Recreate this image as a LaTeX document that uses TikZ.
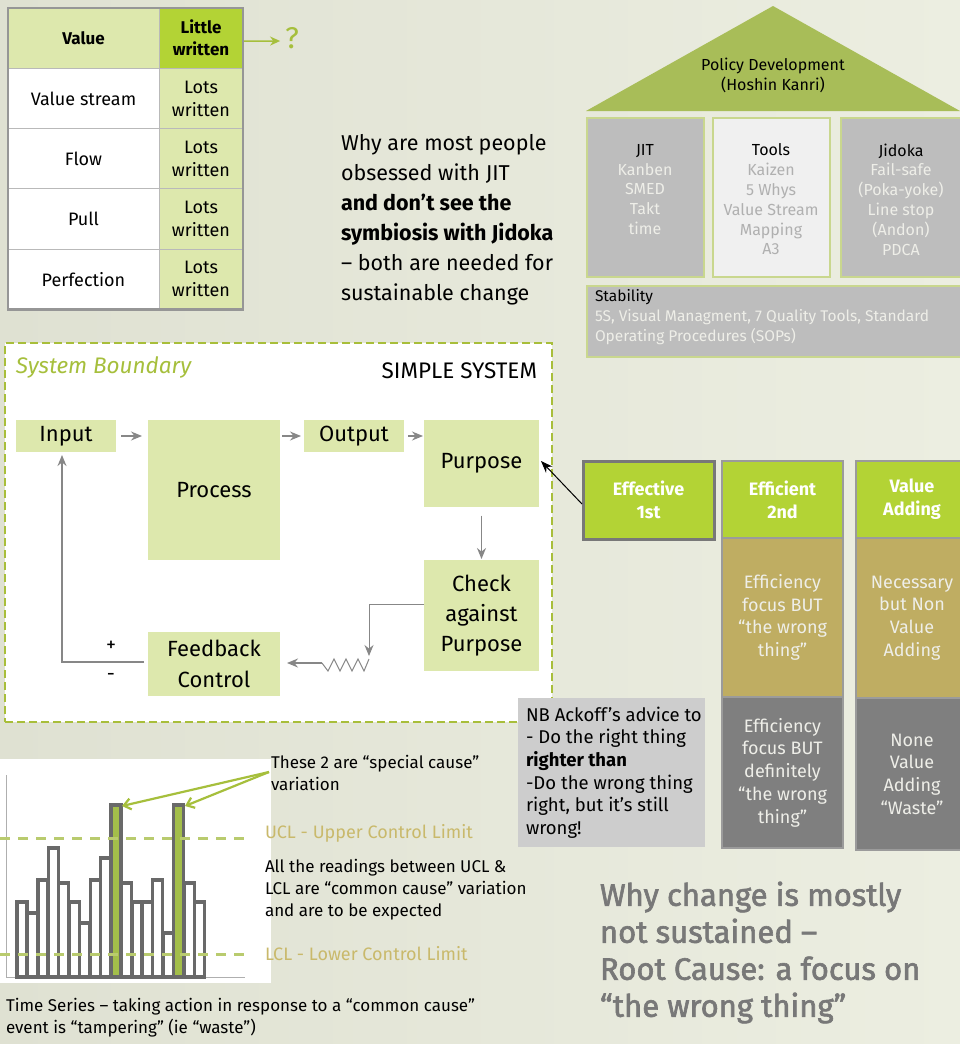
\documentclass[tikz,border=0pt]{standalone}
\usepackage{fontspec}
\setmainfont{Fira Sans}
\newfontfamily\headfont[FakeBold=2]{Fira Sans}
\usetikzlibrary{arrows.meta,calc}
\newcommand\setfs[2]{\fontsize{#1}{#2}\selectfont}
% palette
\definecolor{bgL}{RGB}{223,225,210}
\definecolor{bgR}{RGB}{236,238,225}
\definecolor{palegreen}{RGB}{221,232,173}
\definecolor{brightgreen}{RGB}{179,211,53}
\definecolor{roofgreen}{RGB}{168,189,88}
\definecolor{olivecol}{RGB}{191,173,98}
\definecolor{darkgreycol}{RGB}{127,127,127}
\definecolor{pillargrey}{RGB}{189,189,189}
\definecolor{toolsgrey}{RGB}{240,240,240}
\definecolor{pillaredge}{RGB}{201,215,142}
\definecolor{linegreen}{RGB}{166,191,60}
\definecolor{boundgreen}{RGB}{168,190,58}
\definecolor{tancol}{RGB}{201,185,107}
\definecolor{arrowgrey}{RGB}{135,135,135}
\definecolor{bigtext}{RGB}{120,120,120}
\definecolor{notegrey}{RGB}{205,205,205}
\definecolor{baredge}{RGB}{105,105,105}
\definecolor{softwhite}{RGB}{238,238,232}
\definecolor{gridgrey}{RGB}{185,185,185}
\definecolor{tableedge}{RGB}{150,150,150}
\definecolor{coledge}{RGB}{155,155,155}
\definecolor{effedge}{RGB}{120,120,120}
\definecolor{limitgreen}{RGB}{185,203,110}
\definecolor{itemgrey}{RGB}{176,176,176}
\definecolor{axisgrey}{RGB}{175,175,175}
\definecolor{barfill}{RGB}{163,190,74}
\begin{document}
\begin{tikzpicture}[x=1pt,y=-1pt,
  every node/.style={inner sep=0pt,outer sep=0pt},
  cellL/.style={fill=white,draw=gridgrey,line width=1pt,minimum width=151pt,minimum height=60.3pt,font=\setfs{18}{23}},
  cellR/.style={fill=palegreen,draw=gridgrey,line width=1pt,minimum width=84pt,minimum height=60.3pt,align=center,font=\setfs{18}{23}},
  pillar/.style={draw=pillaredge,line width=2pt,minimum width=117pt,minimum height=159pt},
  pillartext/.style={align=center,font=\setfs{16}{19.8}},
  sysbox/.style={fill=palegreen,align=center,font=\setfs{22}{30}},
  flow/.style={draw=arrowgrey,line width=1.4pt,-{Stealth[length=11pt,width=9pt]}},
  wire/.style={draw=arrowgrey,line width=1pt},
  colhead/.style={fill=brightgreen,draw=coledge,line width=1.5pt,align=center,text=white,font=\bfseries\setfs{18}{23}},
  colbody/.style={draw=coledge,line width=1.5pt,align=center,text=softwhite,font=\setfs{18}{22.7}},
  bar/.style={fill=white,draw=baredge,line width=3.2pt},
  limit/.style={draw=limitgreen,line width=3pt,dash pattern=on 10pt off 8pt},
  pointer/.style={draw=linegreen,line width=2.2pt,-{Straight Barb[length=7pt,width=11pt]}},
]
\useasboundingbox (0,0) rectangle (960,1044);
\shade[left color=bgL,right color=bgR] (0,0) rectangle (960,1044);

% ---------- Lean principles table ----------
\node[cellL,fill=palegreen,font=\bfseries\setfs{17}{22}] (hValue) at (83.5,38.2) {Value};
\node[cellR,fill=brightgreen,font=\bfseries\setfs{17}{22}] (hLittle) at (201,38.2) {Little\\written};
\node[cellL] (rVS) at (83.5,98.5) {Value stream};
\node[cellR] (lVS) at (201,98.5) {Lots\\written};
\node[cellL] (rFlow) at (83.5,158.8) {Flow};
\node[cellR] (lFlow) at (201,158.8) {Lots\\written};
\node[cellL] (rPull) at (83.5,219.1) {Pull};
\node[cellR] (lPull) at (201,219.1) {Lots\\written};
\node[cellL] (rPerf) at (83.5,279.4) {Perfection};
\node[cellR] (lPerf) at (201,279.4) {Lots\\written};
\draw[tableedge,line width=2.5pt] (hValue.north west) rectangle (lPerf.south east);
\node[text=linegreen,font=\setfs{30}{30}] (qmark) at (292,38) {?};
\draw[draw=linegreen,line width=1.5pt,-{Stealth[length=10pt,width=9pt]}]
  ($(hLittle.east)+(1,3)$) -- ($(qmark.west)+(-5,3)$);

% ---------- Lean house ----------
\fill[roofgreen] (586,111) -- (773,6) -- (960,111) -- cycle;
\node[align=center,font=\setfs{16}{20}] (policy) at (773,75) {Policy Development\\(Hoshin Kanri)};
\node[pillar,fill=pillargrey] (jit) at (645.5,197.5) {};
\node[pillar,fill=toolsgrey] (tools) at (771,197.5) {};
\node[pillar,fill=pillargrey,minimum width=121pt] (jidoka) at (901.5,197.5) {};
\node[pillartext,text=softwhite] (jitT) at (645,189.5)
  {\textcolor{black}{JIT}\\Kanben\\SMED\\Takt\\time};
\node[pillartext,text=itemgrey] (toolsT) at (771,199.5)
  {\textcolor{black}{Tools}\\Kaizen\\5 Whys\\Value Stream\\Mapping\\A3};
\node[pillartext,text=softwhite] (jidokaT) at (901,199.5)
  {\textcolor{black}{Jidoka}\\Fail-safe\\(Poka-yoke)\\Line stop\\(Andon)\\PDCA};
\node[draw=pillaredge,line width=2pt,fill=pillargrey,minimum width=376pt,minimum height=71pt] (stab) at (775,321.5) {};
\node[anchor=west,align=left,font=\setfs{15.5}{20},text=softwhite] (stabT) at ($(stab.west)+(8,-4.5)$)
  {\textcolor{black}{Stability}\\5S, Visual Managment, 7 Quality Tools, Standard\\Operating Procedures (SOPs)};

% ---------- Question ----------
\node[anchor=west,align=left,font=\setfs{21.5}{30}] (why) at (341,220)
  {Why are most people\\obsessed with JIT\\\textbf{and don’t see the}\\\textbf{symbiosis with Jidoka}\\– both are needed for\\sustainable change};

% ---------- Simple system ----------
\node[fill=white,draw=boundgreen,line width=2.5pt,dash pattern=on 8pt off 4pt,
      minimum width=547pt,minimum height=379pt] (boundary) at (278.5,532.5) {};
\node[anchor=west,text=linegreen,font=\itshape\setfs{22.5}{26}] (bname) at (16,367) {System Boundary};
\node[anchor=east,font=\setfs{22.5}{26}] (simple) at (537,371) {SIMPLE SYSTEM};
\node[sysbox,minimum width=100pt,minimum height=32pt] (input) at (66,436) {Input};
\node[sysbox,minimum width=132pt,minimum height=140pt] (process) at (214,490) {Process};
\node[sysbox,minimum width=100pt,minimum height=32pt] (output) at (354,436) {Output};
\node[sysbox,minimum width=115pt,minimum height=87pt] (purpose) at (481.5,463) {Purpose};
\node[sysbox,minimum width=115pt,minimum height=111pt] (check) at (481.5,615.5) {Check\\against\\Purpose};
\node[sysbox,minimum width=132pt,minimum height=64pt,font=\setfs{22}{31}] (feedback) at (214,664) {Feedback\\Control};
\draw[flow] ($(input.east)+(5,0)$) -- ($(input.east -| process.west)+(-6,0)$);
\draw[flow] ($(process.east |- output.west)+(2,0)$) -- ($(output.west)+(-3,0)$);
\draw[flow] ($(output.east)+(4,0)$) -- ($(output.east -| purpose.west)+(-1,0)$);
\draw[flow] ($(purpose.south)+(0,9)$) -- ($(check.north)+(0,-1)$);
\coordinate (zr) at (369,659);
\coordinate (zl) at (322,663);
\draw[flow,line width=1pt] ($(check.west)+(0,-11.5)$) -| ($(zr)+(0,-3)$);
\draw[wire] (zr) -- (364,671) -- (358,659) -- (352,671) -- (346,659) -- (340,671)
  -- (334,659) -- (328,671) -- (zl);
\draw[flow] (zl) -- ($(feedback.east)+(7,-1)$);
\draw[flow] ($(feedback.west)+(-4,-2)$) -| ($(input.south)+(-4,3)$);
\node[font=\setfs{20}{22}] (plus) at (111,646) {+};
\node[font=\setfs{20}{22}] (minus) at (111,677) {-};

% ---------- Effective / efficient / value adding ----------
\node[fill=brightgreen,draw=effedge,line width=3pt,minimum width=131pt,minimum height=78pt,
      align=center,text=white,font=\bfseries\setfs{18}{23}] (effective) at (648.5,500) {Effective\\1st};
\node[colhead,minimum width=121pt,minimum height=77pt] (effH) at (782.5,499.5) {Efficient\\2nd};
\node[colbody,fill=olivecol,minimum width=121pt,minimum height=159pt] (effO) at (782.5,617.5)
  {Efficiency\\focus BUT\\“the wrong\\thing”};
\node[colbody,fill=darkgreycol,minimum width=121pt,minimum height=151pt] (effG) at (782.5,772.5)
  {Efficiency\\focus BUT\\definitely\\“the wrong\\thing”};
\node[colhead,minimum width=112pt,minimum height=77pt] (vaH) at (912,499.5) {Value\\Adding};
\node[colbody,fill=olivecol,minimum width=112pt,minimum height=160pt] (vaO) at (912,618)
  {Necessary\\but Non\\Value\\Adding};
\node[colbody,fill=darkgreycol,minimum width=112pt,minimum height=152pt] (vaG) at (912,774)
  {None\\Value\\Adding\\“Waste”};
\draw[line width=1pt,-{Stealth[length=12pt,width=9pt]}]
  ($(effective.west)+(-1,4)$) -- ($(purpose.east)+(2,-2)$);

% ---------- Ackoff note ----------
\node[fill=notegrey,minimum width=187pt,minimum height=149pt] (nb) at (611.5,772.5) {};
\node[anchor=west,align=left,font=\setfs{18.5}{22.6}] (nbtext) at ($(nb.west)+(8,0)$)
  {NB Ackoff’s advice to\\- Do the right thing\\\textbf{righter than}\\-Do the wrong thing\\right, but it’s still\\wrong!};

% ---------- Control chart ----------
\fill[white] (0,759) rectangle (271,983);
\draw[axisgrey,line width=1pt] (6,775) -- (6,977) -- (245,977);
\foreach \t [count=\i from 0] in {902,913,880,848,883,902,923,880,858,805,883,902,902,880,933,805,883,902}
  \draw[bar] ({17+10.45*\i},977) rectangle ({27+10.45*\i},\t);
\draw[bar,fill=barfill] ({17+10.45*9},977) rectangle ({27+10.45*9},805);
\draw[bar,fill=barfill] ({17+10.45*15},977) rectangle ({27+10.45*15},805);
\draw[limit] (0,838) -- (245,838);
\draw[limit] (0,954) -- (245,954);
\node[anchor=west,align=left,font=\setfs{17}{22}] (special) at (271,773)
  {These 2 are “special cause”\\variation};
\draw[pointer] ($(special.west)+(-2,-1)$) -- (122,806);
\draw[pointer] ($(special.west)+(-2,-1)$) -- (185,806);
\node[anchor=west,text=tancol,font=\setfs{18}{22}] (ucl) at (265,833) {UCL - Upper Control Limit};
\node[anchor=west,align=left,font=\setfs{17}{22}] (common) at (265,890)
  {All the readings between UCL \&\\LCL are “common cause” variation\\and are to be expected};
\node[anchor=west,text=tancol,font=\setfs{18}{22}] (lcl) at (265,954) {LCL - Lower Control Limit};
\node[anchor=west,align=left,font=\setfs{17}{22}] (series) at (6,1018)
  {Time Series – taking action in response to a “common cause”\\event is “tampering” (ie “waste”)};

% ---------- Conclusion ----------
\node[anchor=west,align=left,font=\headfont\setfs{31}{37},text=bigtext] (root) at (600,952.5)
  {Why change is mostly\\not sustained –\\Root Cause: a focus on\\“the wrong thing”};
\end{tikzpicture}
\end{document}
